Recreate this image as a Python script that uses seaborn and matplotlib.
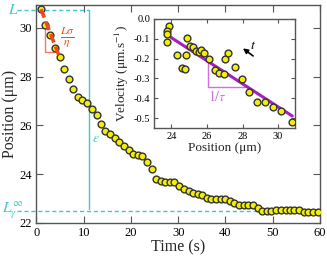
import matplotlib
matplotlib.use("Agg")
import matplotlib.pyplot as plt
import seaborn as sns
import pandas as pd

# ---- main data: position vs time ----
time_s = [0.96, 1.9, 2.9, 3.9, 4.9, 5.8, 6.8, 7.8, 8.8, 9.7, 10.7, 11.7, 12.7, 13.6, 14.6,
          15.6, 16.6, 17.5, 18.5, 19.5, 20.5, 21.4, 22.4, 23.4, 24.4, 25.3, 26.3, 27.3, 28.3,
          29.2, 30.2, 31.2, 32.2, 33.1, 34.1, 35.1, 36.1, 37.0, 38.0, 39.0, 39.9, 40.9, 41.9,
          42.9, 43.9, 44.8, 45.8, 46.8, 47.8, 48.8, 49.7, 50.7, 51.7, 52.7, 53.6, 54.6, 55.6,
          56.6, 57.5, 58.5, 59.5]
position_um = [30.77, 30.10, 29.69, 29.18, 28.79, 28.31, 27.91, 27.49, 27.15, 27.03, 26.91,
               26.66, 26.43, 26.07, 25.78, 25.63, 25.50, 25.31, 25.17, 24.99, 24.82, 24.77,
               24.75, 24.51, 24.21, 23.79, 23.72, 23.69, 23.69, 23.68, 23.53, 23.38, 23.31,
               23.22, 23.20, 23.13, 23.02, 22.97, 22.97, 22.98, 22.97, 22.89, 22.81, 22.73,
               22.74, 22.75, 22.73, 22.60, 22.49, 22.49, 22.49, 22.53, 22.53, 22.52, 22.52,
               22.53, 22.52, 22.45, 22.44, 22.44, 22.45]

# ---- inset data: velocity vs position ----
inset_pos = [23.85, 23.78, 23.74, 23.74, 24.30, 24.58, 24.79, 24.83, 24.88, 25.05, 25.20,
             25.39, 25.57, 25.69, 25.84, 26.12, 26.46, 26.70, 26.98, 27.02, 27.18, 27.56,
             27.97, 28.37, 28.81, 29.25, 29.73, 30.15, 30.80]
inset_vel = [-0.035, -0.059, -0.076, -0.116, -0.184, -0.246, -0.251, -0.184, -0.098, -0.136,
             -0.140, -0.162, -0.165, -0.157, -0.170, -0.204, -0.258, -0.271, -0.276, -0.204,
             -0.170, -0.244, -0.301, -0.368, -0.418, -0.418, -0.446, -0.463, -0.519]

# reference lines / fits
L_top = 30.73
L_inf = 22.49
eps_time = 11.2
init_fit_t = [0.96, 4.9]
init_fit_y = [30.77, 28.79]
vel_fit_x = [23.75, 30.8]
vel_fit_y = [-0.08, -0.49]

main_xticks = [0, 10, 20, 30, 40, 50, 60]
main_yticks = [22, 24, 26, 28, 30]
inset_xticks = [24, 26, 28, 30]
inset_yticks = [0.0, -0.1, -0.2, -0.3, -0.4, -0.5]

sns.set_theme(style="ticks")
plt.rcParams["font.family"] = ["Liberation Serif", "DejaVu Serif"]
plt.rcParams["mathtext.fontset"] = "stix"

CYAN = "#3cc8cc"
RED = "#f04a1c"
SALMON = "#f07a68"
PURPLE = "#a81ec0"
LPURPLE = "#d070e0"
SPINE = "#555555"
MFACE = "#f4f000"
MEDGE = "#333333"

fig = plt.figure(figsize=(3.27, 2.57), dpi=100)
ax = fig.add_axes([0.1116, 0.1323, 0.8670, 0.8482])

df = pd.DataFrame({"t": time_s, "x": position_um})
sns.scatterplot(data=df, x="t", y="x", ax=ax, s=24, color=MFACE, edgecolor=MEDGE,
                linewidth=1.0, zorder=3, legend=False)

ax.set_xlim(0, 60)
ax.set_ylim(22, 30.94)
ax.set_xticks(main_xticks)
ax.set_yticks(main_yticks)
ax.tick_params(direction="in", length=5, width=0.8, top=True, right=True,
               labelsize=9, pad=3, color=SPINE, labelcolor="black")
for sp in ax.spines.values():
    sp.set_color(SPINE)
    sp.set_linewidth(1.0)
ax.set_xlabel("Time (s)", fontsize=11.5, labelpad=0)
ax.set_ylabel("Position (μm)", fontsize=11.5, labelpad=1)

# cyan reference lines
ax.plot([-4.1, eps_time], [L_top, L_top], ls=(0, (3, 2)), color=CYAN, lw=1.0,
        clip_on=False, zorder=2)
ax.plot([-4.1, 60], [L_inf, L_inf], ls=(0, (3, 2)), color=CYAN, lw=1.0,
        clip_on=False, zorder=2)
ax.plot([eps_time, eps_time], [L_top, L_inf + 0.08], color=CYAN, lw=1.0, zorder=2)
ax.text(-5.0, L_top, r"$L$", color=CYAN, fontsize=11, ha="center", va="center",
        clip_on=False)
ax.text(-5.0, L_inf, r"$L_\gamma^\infty$", color=CYAN, fontsize=11, ha="center",
        va="center", clip_on=False)
ax.text(eps_time + 1.3, 25.45, r"$\varepsilon$", color=CYAN, fontsize=10,
        ha="center", va="center")

# initial slope
ax.plot(init_fit_t, init_fit_y, color=RED, lw=2.6, ls=(0, (2.5, 1.2)), zorder=4)
ax.plot([1.8, 1.8, 3.94], [30.12, 29.01, 29.01], color=SALMON, lw=1.0, zorder=2)
ax.text(6.6, 29.62, r"$\frac{L\sigma}{\eta}$", color=RED, fontsize=12,
        ha="center", va="center")

# ---- inset ----
ins = fig.add_axes([0.4719, 0.5031, 0.4312, 0.4230])
ins.set_facecolor("white")
idf = pd.DataFrame({"p": inset_pos, "v": inset_vel})
sns.lineplot(x=vel_fit_x, y=vel_fit_y, ax=ins, color=PURPLE, lw=2.2, zorder=2)
sns.scatterplot(data=idf, x="p", y="v", ax=ins, s=24, color=MFACE, edgecolor=MEDGE,
                linewidth=1.0, zorder=3, legend=False)
ins.plot([26.04, 26.04, 28.14], [-0.22, -0.345, -0.345], color=LPURPLE, lw=1.0, zorder=1)
ins.text(26.6, -0.39, r"$1/\tau$", color=LPURPLE, fontsize=10, ha="center", va="center")
ins.annotate("", xy=(27.9, -0.14), xytext=(28.72, -0.195),
             arrowprops=dict(arrowstyle="-|>", color="black", lw=1.2,
                             mutation_scale=7))
ins.text(28.58, -0.135, r"$t$", color="black", fontsize=10, ha="center", va="center")

ins.set_xlim(23.04, 30.97)
ins.set_ylim(-0.549, 0.0)
ins.set_xticks(inset_xticks)
ins.set_yticks(inset_yticks)
ins.set_yticklabels(["0.0", "-0.1", "-0.2", "-0.3", "-0.4", "-0.5"])
ins.tick_params(direction="in", length=3, width=0.8, top=True, right=True,
                labelsize=7.5, pad=3, color=SPINE, labelcolor="black")
for sp in ins.spines.values():
    sp.set_color(SPINE)
    sp.set_linewidth(1.0)
ins.set_xlabel("Position (μm)", fontsize=9.5, labelpad=1)
ins.set_ylabel("Velocity (μm.s$^{-1}$)", fontsize=9.5, labelpad=2)

fig.savefig("out.png", dpi=100)
